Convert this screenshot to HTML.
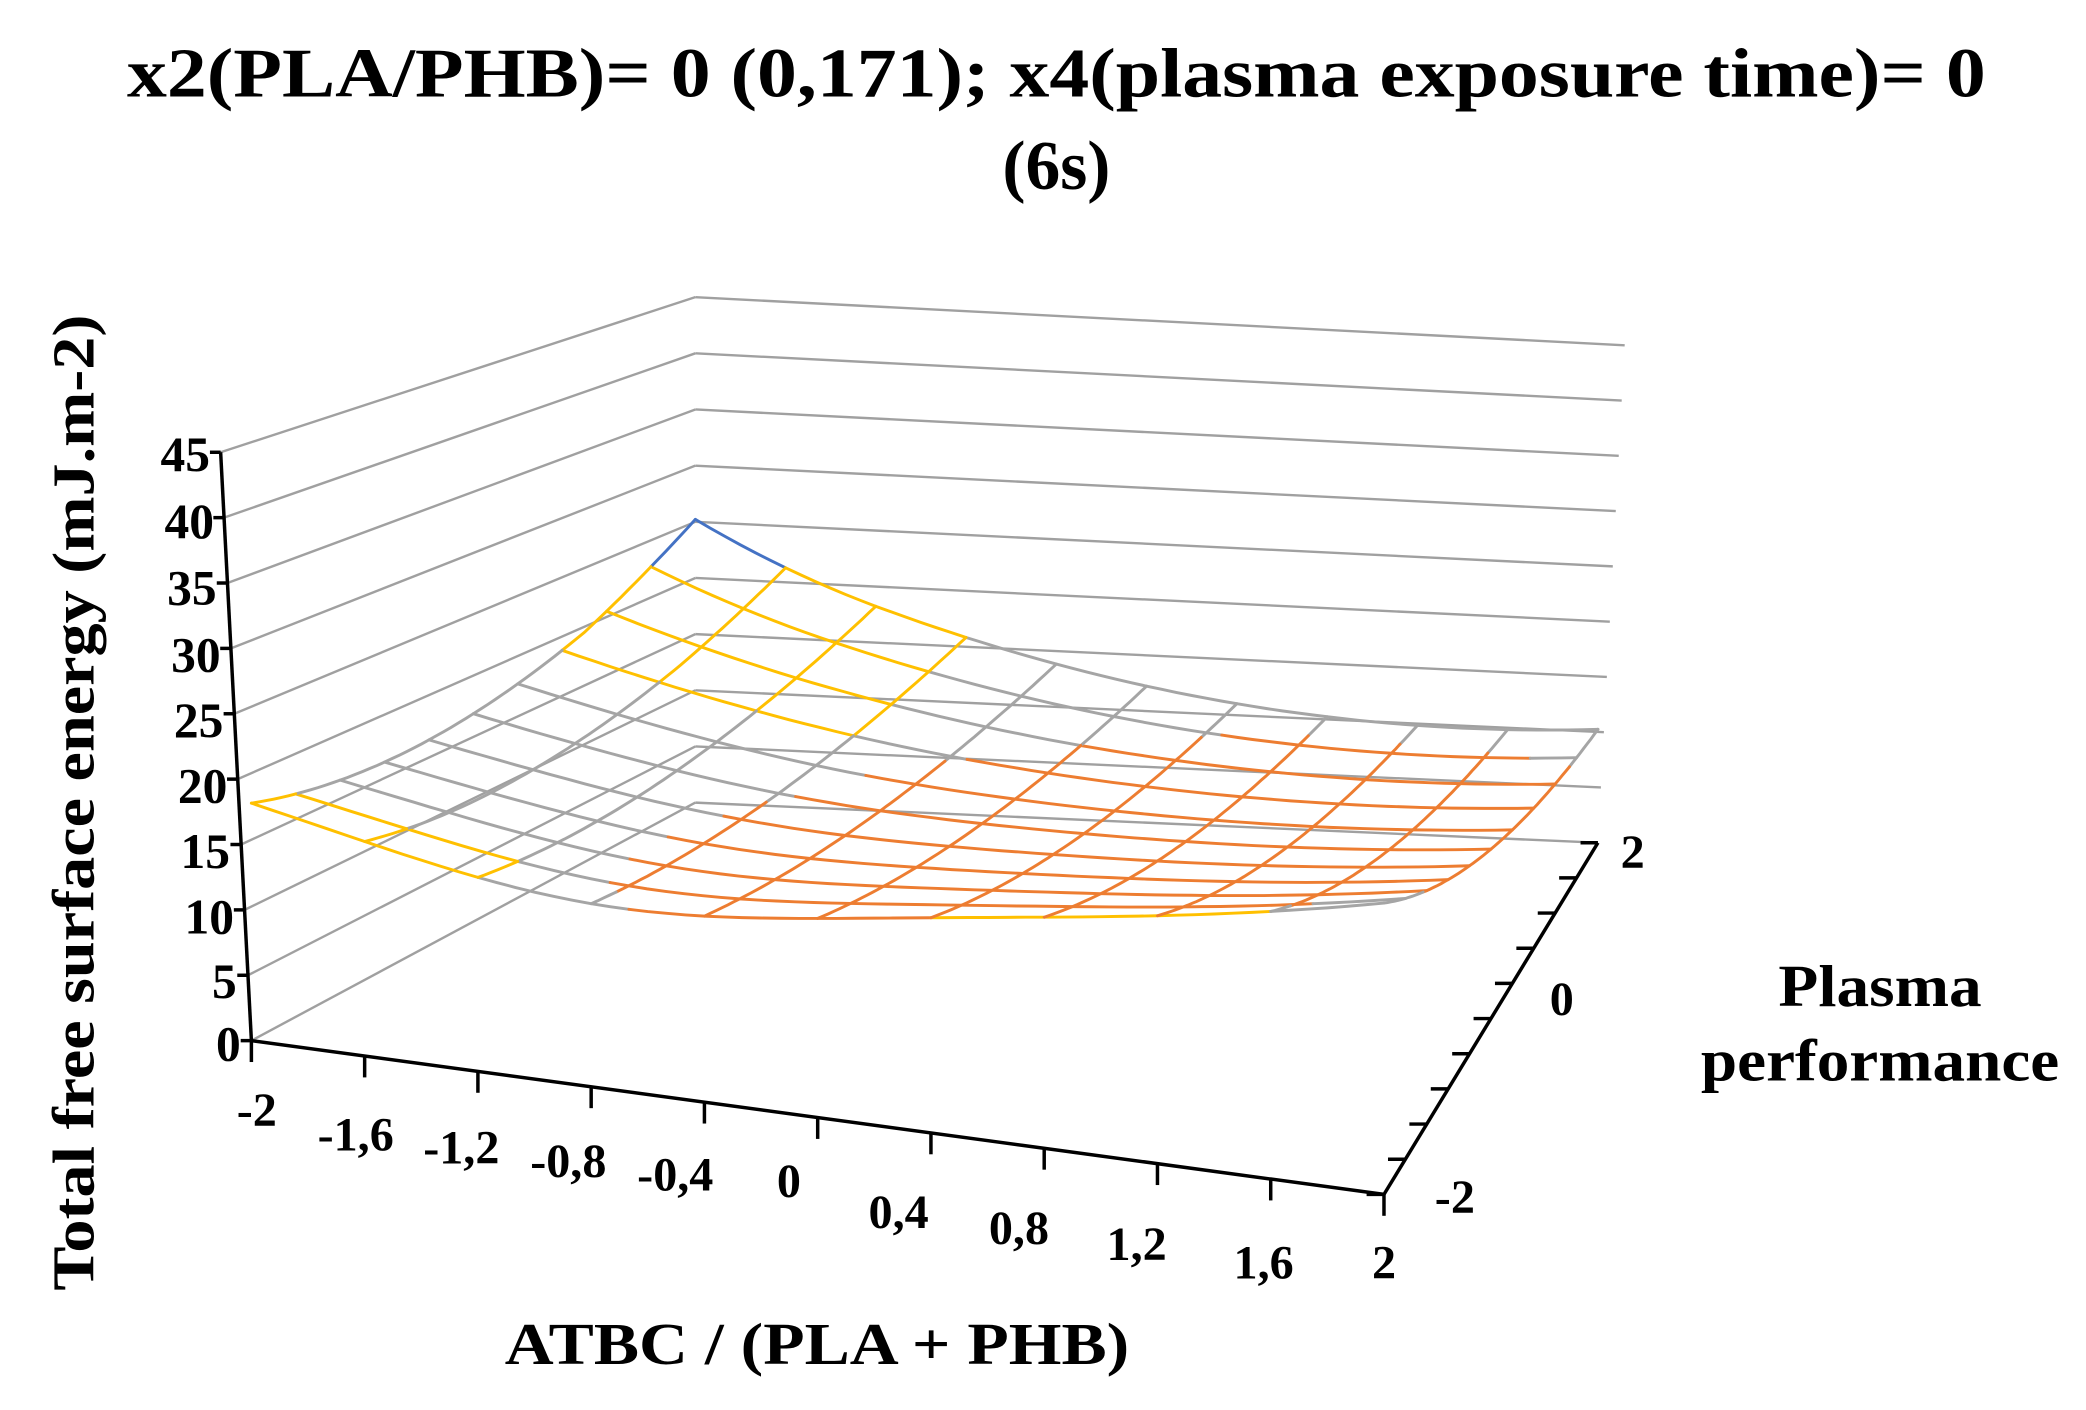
<!DOCTYPE html>
<html><head><meta charset="utf-8"><style>
html,body{margin:0;padding:0;background:#fff;}
svg{display:block;}
text{font-family:"Liberation Serif",serif;font-weight:bold;fill:#000;}
</style></head><body>
<svg id="s" width="2086" height="1410" viewBox="0 0 1560 1054" xmlns="http://www.w3.org/2000/svg">
<rect width="1560" height="1054" fill="#fff"/>
<text x="790" y="72" font-size="52" text-anchor="middle" textLength="1390" lengthAdjust="spacingAndGlyphs">x2(PLA/PHB)= 0 (0,171); x4(plasma exposure time)= 0</text>
<text x="790" y="141" font-size="52" text-anchor="middle">(6s)</text>
<g id="walls" stroke="#a0a0a0" stroke-width="1.8" fill="none"></g>
<g id="surf" stroke-width="2.2" fill="none" stroke-linecap="round"></g>
<g id="axes" stroke="#000" stroke-width="2.6" fill="none"></g>
<g font-size="37" text-anchor="end">
<text x="157" y="352">45</text><text x="160" y="402">40</text><text x="162" y="452">35</text>
<text x="165" y="502">30</text><text x="167" y="551">25</text><text x="170" y="600">20</text>
<text x="172" y="649">15</text><text x="175" y="698">10</text><text x="177" y="746">5</text>
<text x="180" y="793">0</text>
</g>
<g font-size="36" text-anchor="middle">
<text x="192" y="842">-2</text><text x="266" y="860">-1,6</text><text x="345" y="870">-1,2</text>
<text x="425" y="880">-0,8</text><text x="505" y="890">-0,4</text><text x="590" y="895">0</text>
<text x="672" y="918">0,4</text><text x="762" y="930">0,8</text><text x="850" y="942">1,2</text>
<text x="945" y="956">1,6</text><text x="1035" y="956">2</text>
<text x="1088" y="907">-2</text><text x="1168" y="759">0</text><text x="1221" y="649">2</text>
</g>
<text font-size="44" text-anchor="middle" textLength="730" lengthAdjust="spacingAndGlyphs" transform="translate(70,600) rotate(-90)">Total free surface energy (mJ.m-2)</text>
<text x="611" y="1020" font-size="44" text-anchor="middle" textLength="467" lengthAdjust="spacingAndGlyphs">ATBC / (PLA + PHB)</text>
<text x="1406" y="752" font-size="44" text-anchor="middle" textLength="152" lengthAdjust="spacingAndGlyphs">Plasma</text>
<text x="1406" y="808" font-size="44" text-anchor="middle" textLength="268" lengthAdjust="spacingAndGlyphs">performance</text>
</svg>
<script>
(function(){
var NS="http://www.w3.org/2000/svg";
function L(g,x1,y1,x2,y2,c){var l=document.createElementNS(NS,"line");l.setAttribute("x1",x1);l.setAttribute("y1",y1);l.setAttribute("x2",x2);l.setAttribute("y2",y2);if(c)l.setAttribute("stroke",c);g.appendChild(l);}
function P(g,pts,c){var p=document.createElementNS(NS,"polyline");p.setAttribute("points",pts.map(function(q){return q[0].toFixed(1)+","+q[1].toFixed(1)}).join(" "));p.setAttribute("stroke",c);g.appendChild(p);}
var FL=[188,778],FR=[1035,893],BR=[1195,630],BL=[520,600];
var sFL=9.78,sFR=10.5,sBR=8.27,sBL=8.4;
function proj(x,y,z){var u=(x+2)/4,w=(y+2)/4;
 var fx=(1-u)*(1-w)*FL[0]+u*(1-w)*FR[0]+u*w*BR[0]+(1-u)*w*BL[0];
 var fy=(1-u)*(1-w)*FL[1]+u*(1-w)*FR[1]+u*w*BR[1]+(1-u)*w*BL[1];
 var s=(1-u)*(1-w)*sFL+u*(1-w)*sFR+u*w*sBR+(1-u)*w*sBL;
 return [fx,fy-z*s];}
var walls=document.getElementById("walls");
for(var v=0;v<=45;v+=5){
 var fa=[165+23*(45-v)/45,338+440*(45-v)/45];
 var bk=[520,222+378*(45-v)/45];
 var rt=[1215-20*(45-v)/45,258+372*(45-v)/45];
 L(walls,fa[0],fa[1],bk[0],bk[1]);L(walls,bk[0],bk[1],rt[0],rt[1]);}
var ax=document.getElementById("axes");
L(ax,165,338,188,778);
for(var v=0;v<=45;v+=5){var t=(45-v)/45;var x=165+23*t,y=338+440*t;L(ax,x-8,y,x,y);}
L(ax,188,778,1035,893);
for(var i=0;i<=10;i++){var t=i/10;var x=188+847*t,y=778+115*t;L(ax,x,y,x,y+16);}
L(ax,1035,893,1195,630);
for(var i=0;i<=10;i++){var t=i/10;var x=1035+160*t,y=893-263*t;L(ax,x-13,y,x,y);}
function h(x,y){var u=(x+2)/4,w=(y+2)/4;
 return 13-2.125*x-1.5*y-1.3125*x*y+0.9375*x*x+0.25*y*y+(x<-1.2&&y>1?1.5*(x+1.2)*(x+1.2)*(y-1):0)
  +5*u*u*w*w-3.5*(1-u)*(1-u)*4*w*(1-w)
  -(1-w)*(1-w)*(1.0+2.5*Math.exp(-Math.pow((x+0.8),2)));}
function cf(x,y){var X=x-0.8,Y=y+0.1;var b=Y>0?1.3:1.0;var a=X<0?1.8:1.18;
 return 9+a*X*X+b*Y*Y-1.06*X*Y+0.8*Math.max(0,X)*Math.max(0,Y);}
function col(x,y){
 var e=1e-6;
 if((Math.abs(x+2)<0.01&&y>=1.6-e)||(Math.abs(y-2)<0.01&&x<=-1.6+e))return "#4472c4";
 if(x<=-0.8+e&&y>=0.8-e)return "#ffc000";
 if(x<=-1.2+e&&y<=-1.6+e)return "#ffc000";
 if(y<=-2+0.01&&x>=0.4&&x<=1.6)return "#ffc000";
 if(cf(x,y)<13.5)return "#ed7d31";
 return "#a5a5a5";}
var sg=document.getElementById("surf");
var N=10,sub=6;
function line(getXY){var prev=null,pc=null,seg=[];
 for(var k=0;k<=N*sub;k++){var xy=getXY(k/(N*sub));var p=proj(xy[0],xy[1],h(xy[0],xy[1]));
  if(prev){var xm=getXY((k-0.5)/(N*sub));var c=col(xm[0],xm[1]);
   if(c!==pc&&seg.length){P(sg,seg,pc);seg=[prev];}
   if(!seg.length)seg=[prev];seg.push(p);pc=c;}
  prev=p;}
 if(seg.length)P(sg,seg,pc);}
for(var j=N;j>=0;j--){(function(j){var y=-2+4*j/N;line(function(t){return [-2+4*t,y];});})(j);}
for(var i=0;i<=N;i++){(function(i){var x=-2+4*i/N;line(function(t){return [x,2-4*t];});})(i);}
})();
</script>
</body></html>
